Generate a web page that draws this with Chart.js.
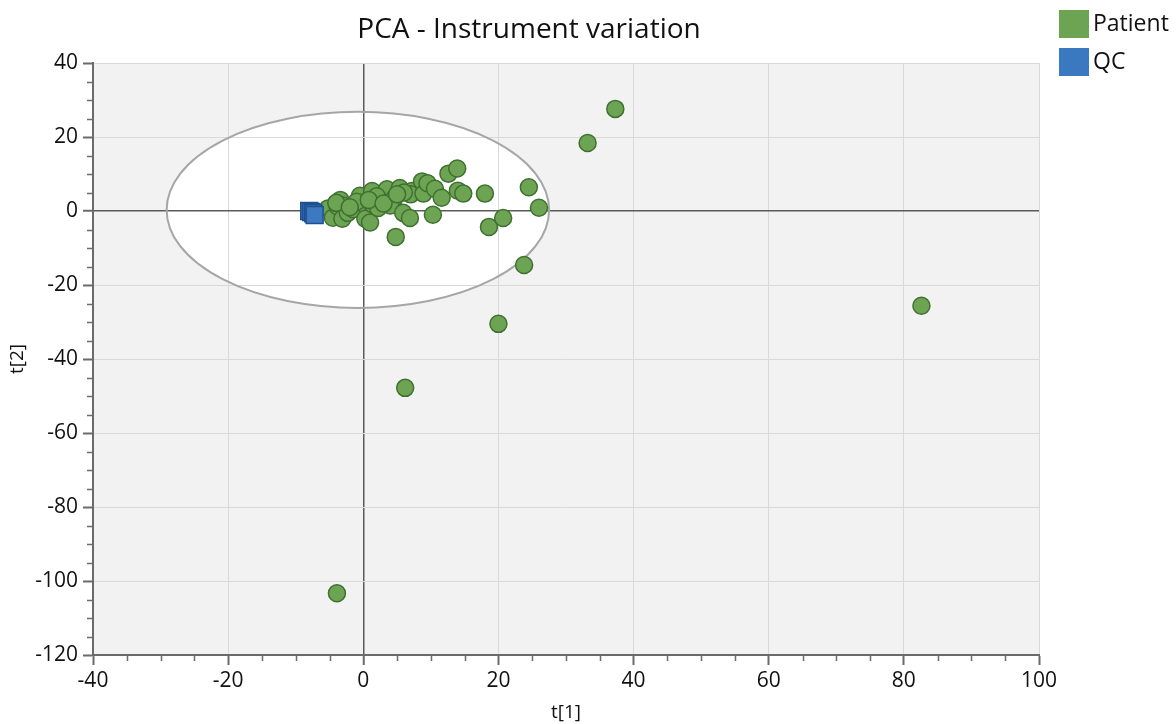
<!DOCTYPE html>
<html>
<head>
<meta charset="utf-8">
<script src="https://cdn.jsdelivr.net/npm/chart.js@4.4.0/dist/chart.umd.min.js"></script>
<style>
  html, body { margin: 0; padding: 0; background: #fff; }
  #wrap { width: 1176px; height: 724px; }
</style>
</head>
<body>
<div id="wrap"><canvas id="pcaChart" width="1176" height="724"></canvas></div>
<script>
// PCA score values
const patientX = [-5.2, -4.5, -3.8, -3.4, -3.0, -3.1, -2.3, -1.5, -0.5, 0.0, 0.3, 1.0, 1.3, 1.3, 2.2, 2.8, 3.5, 4.5, 4.0, 5.4,
                  5.9, 6.9, 7.2, 7.0, 8.7, 8.9, 9.5, 10.6, 11.6, 10.3, 12.6, 13.9, 14.0, 14.8, 18.0, 18.6, 20.7, 24.5, 26.0, 23.8,
                  20.0, 6.2, -3.9, 82.6, 33.2, 37.3, 4.8, 6.0, 2.0, -1.0, -4.0, -2.0, 0.8, 3.0, 5.0];
const patientY = [0.7, -1.8, 1.2, 3.0, 1.5, -2.1, -0.5, 0.5, 4.1, 2.0, -2.1, -3.1, 5.4, 1.9, 0.8, 3.5, 5.9, 3.2, 1.5, 6.2,
                  -0.5, -1.9, 5.4, 4.5, 8.0, 4.7, 7.5, 6.0, 3.6, -1.0, 10.1, 11.5, 5.5, 4.7, 4.7, -4.3, -1.9, 6.4, 0.9, -14.6,
                  -30.5, -47.8, -103.3, -25.6, 18.4, 27.6, -7.0, 5.0, 4.0, 2.5, 2.2, 1.0, 3.0, 2.0, 4.5];
const qcX = [-8.0, -7.7, -7.4, -7.2];
const qcY = [0.0, -0.3, -0.6, -1.1];

const xTicks = [-40, -20, 0, 20, 40, 60, 80, 100];
const yTicks = [-120, -100, -80, -60, -40, -20, 0, 20, 40];

// Hotelling ellipse: centre and radii in score units
const ellipseCentre = [-0.8, 0.3];
const ellipseRadii = [28.3, 26.5];

const FONT = "'Open Sans', 'Noto Sans', sans-serif";
const AXIS = '#6b6b6b';

const toPts = (xs, ys) => xs.map((x, i) => ({ x: x, y: ys[i] }));

function ellipsePath(chart) {
    const { ctx, scales } = chart;
    ctx.beginPath();
    ctx.ellipse(scales.x.getPixelForValue(ellipseCentre[0]), scales.y.getPixelForValue(ellipseCentre[1]),
        Math.abs(scales.x.getPixelForValue(ellipseRadii[0]) - scales.x.getPixelForValue(0)),
        Math.abs(scales.y.getPixelForValue(ellipseRadii[1]) - scales.y.getPixelForValue(0)), 0, 0, Math.PI * 2);
}

// background + ellipse, minor ticks, title, legend
const pcaDecor = {
    id: 'pcaDecor',
    beforeDraw(chart) {
        const { ctx, chartArea: a } = chart;
        ctx.save();
        ctx.fillStyle = '#f2f2f2';
        ctx.fillRect(a.left, a.top, a.right - a.left, a.bottom - a.top);
        ellipsePath(chart);
        ctx.fillStyle = '#ffffff';
        ctx.fill();
        ctx.restore();
    },
    beforeDatasetsDraw(chart) {
        const ctx = chart.ctx;
        ctx.save();
        ellipsePath(chart);
        ctx.strokeStyle = '#a6a6a6';
        ctx.lineWidth = 2;
        ctx.stroke();
        ctx.restore();
    },
    afterDraw(chart) {
        const { ctx, chartArea: a, scales } = chart;
        ctx.save();
        ctx.strokeStyle = AXIS;
        ctx.lineWidth = 1.5;
        ctx.beginPath();
        for (let v = -40; v <= 100; v += 5) {
            if (v % 20 === 0) continue;
            const px = Math.round(scales.x.getPixelForValue(v)) + 0.5;
            ctx.moveTo(px, a.bottom);
            ctx.lineTo(px, a.bottom + 6);
        }
        for (let v = -120; v <= 40; v += 5) {
            if (v % 20 === 0) continue;
            const py = Math.round(scales.y.getPixelForValue(v)) + 0.5;
            ctx.moveTo(a.left, py);
            ctx.lineTo(a.left - 6, py);
        }
        ctx.stroke();

        // title
        ctx.fillStyle = '#111';
        ctx.font = '28px ' + FONT;
        ctx.textAlign = 'center';
        ctx.textBaseline = 'middle';
        ctx.fillText('PCA - Instrument variation', 529, 30);

        // legend
        ctx.textAlign = 'left';
        ctx.font = '23px ' + FONT;
        ctx.fillStyle = '#6ca454';
        ctx.fillRect(1059, 10, 30, 28);
        ctx.fillStyle = '#3a78bf';
        ctx.fillRect(1059, 48, 30, 28);
        ctx.fillStyle = '#111';
        ctx.fillText('Patient', 1093, 24);
        ctx.fillText('QC', 1093, 62);
        ctx.restore();
    }
};

const ctx = document.getElementById('pcaChart').getContext('2d');
const chart = new Chart(ctx, {
    type: 'scatter',
    data: {
        datasets: [
            {
                label: 'QC',
                data: toPts(qcX, qcY),
                pointStyle: 'rect',
                pointRadius: 12,
                pointBackgroundColor: '#3d79c1',
                pointBorderColor: '#1f4f8f',
                pointBorderWidth: 1.5,
                order: 0
            },
            {
                label: 'Patient',
                data: toPts(patientX, patientY),
                pointRadius: 8.5,
                pointBackgroundColor: '#6ca454',
                pointBorderColor: '#3f7030',
                pointBorderWidth: 1.5,
                order: 1
            }
        ]
    },
    options: {
        responsive: false,
        animation: false,
        devicePixelRatio: 1,
        layout: { padding: { top: 63, right: 137, left: 0, bottom: 0 } },
        plugins: {
            legend: { display: false },
            title: { display: false },
            tooltip: { enabled: false }
        },
        scales: {
            x: {
                type: 'linear',
                min: -40, max: 100,
                afterBuildTicks: s => { s.ticks = xTicks.map(v => ({ value: v })); },
                afterFit: s => { s.height = 69; },
                ticks: { font: { family: FONT, size: 21 }, color: '#111', padding: 3 },
                grid: {
                    color: c => (c.tick && c.tick.value === 0) ? '#5a5a5a' : '#d9d9d9',
                    lineWidth: c => (c.tick && c.tick.value === 0) ? 1.5 : 1,
                    tickColor: AXIS, tickLength: 10, tickWidth: 2
                },
                border: { color: AXIS, width: 2 },
                title: { display: true, text: 't[1]', font: { family: FONT, size: 19 }, color: '#111', padding: 0 }
            },
            y: {
                type: 'linear',
                min: -120, max: 40,
                afterBuildTicks: s => { s.ticks = yTicks.map(v => ({ value: v })); },
                afterFit: s => { s.width = 93; },
                ticks: { font: { family: FONT, size: 21 }, color: '#111', padding: 5 },
                grid: {
                    color: c => (c.tick && c.tick.value === 0) ? '#5a5a5a' : '#d9d9d9',
                    lineWidth: c => (c.tick && c.tick.value === 0) ? 1.5 : 1,
                    tickColor: AXIS, tickLength: 10, tickWidth: 2
                },
                border: { color: AXIS, width: 2 },
                title: { display: true, text: 't[2]', font: { family: FONT, size: 19 }, color: '#111', padding: 6 }
            }
        }
    },
    plugins: [pcaDecor]
});
</script>
</body>
</html>
